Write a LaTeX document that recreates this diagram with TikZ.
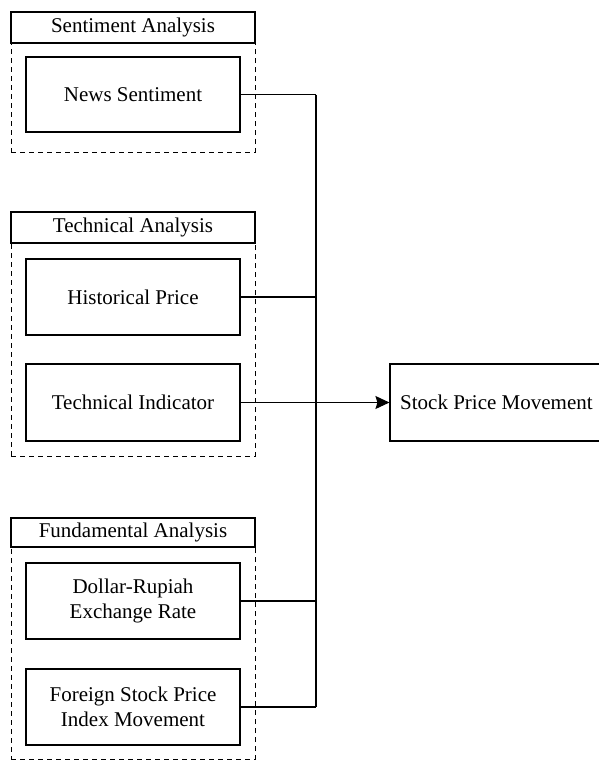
\documentclass[tikz,border=0pt]{standalone}
\usepackage{fontspec}
\setmainfont{Liberation Serif}
\usetikzlibrary{arrows.meta}
\begin{document}
\begin{tikzpicture}[x=1pt,y=-1pt,
  every node/.style={font=\fontsize{21}{25}\selectfont},
  titlebox/.style={draw,line width=1.1pt,fill=white,minimum width=244pt,inner sep=0pt},
  container/.style={draw,dashed,dash pattern=on 5pt off 4pt,line width=1pt,minimum width=244pt,inner sep=0pt},
  itembox/.style={draw,line width=1.1pt,minimum width=214pt,inner sep=0pt,align=center},
  conn/.style={line width=1.1pt}]
\useasboundingbox (0,0) rectangle (599,761);
% Sentiment
\node[container,minimum height=109pt] (scont) at (133,97.5) {};
\node[titlebox,minimum height=31pt] (stitle) at (133,27.5) {Sentiment Analysis};
\node[itembox,minimum height=75pt] (news) at (133,94.5) {News Sentiment};
% Technical
\node[container,minimum height=213pt] (tcont) at (133,349.5) {};
\node[titlebox,minimum height=31pt] (ttitle) at (133,227.5) {Technical Analysis};
\node[itembox,minimum height=76pt] (hist) at (133,297) {Historical Price};
\node[itembox,minimum height=77pt] (ind) at (133,402.5) {Technical Indicator};
% Fundamental
\node[container,minimum height=212pt] (fcont) at (133,653) {};
\node[titlebox,minimum height=29pt] (ftitle) at (133,532.5) {Fundamental Analysis};
\node[itembox,minimum height=76pt] (dollar) at (133,601) {Dollar-Rupiah\\Exchange Rate};
\node[itembox,minimum height=76pt] (foreign) at (133,707) {Foreign Stock Price\\Index Movement};
% Target
\node[draw,line width=1.1pt,minimum width=212pt,minimum height=77pt,inner sep=0pt] (stock) at (496,402.5) {};
\node[anchor=west,inner sep=0pt] (stocktext) at (400,402.5) {Stock Price Movement};
% Bus
\coordinate (bustop) at (316,94.5);
\coordinate (busbot) at (316,707);
\draw[conn] (bustop) -- (busbot);
\draw[conn] (news.east) -- (news.east -| bustop);
\draw[conn] (hist.east) -- (hist.east -| bustop);
\draw[conn] (dollar.east) -- (dollar.east -| bustop);
\draw[conn] (foreign.east) -- (foreign.east -| bustop);
\draw[conn,-{Stealth[length=14pt,width=13pt,inset=2pt]}] (ind.east) -- (stock.west);
\end{tikzpicture}
\end{document}
